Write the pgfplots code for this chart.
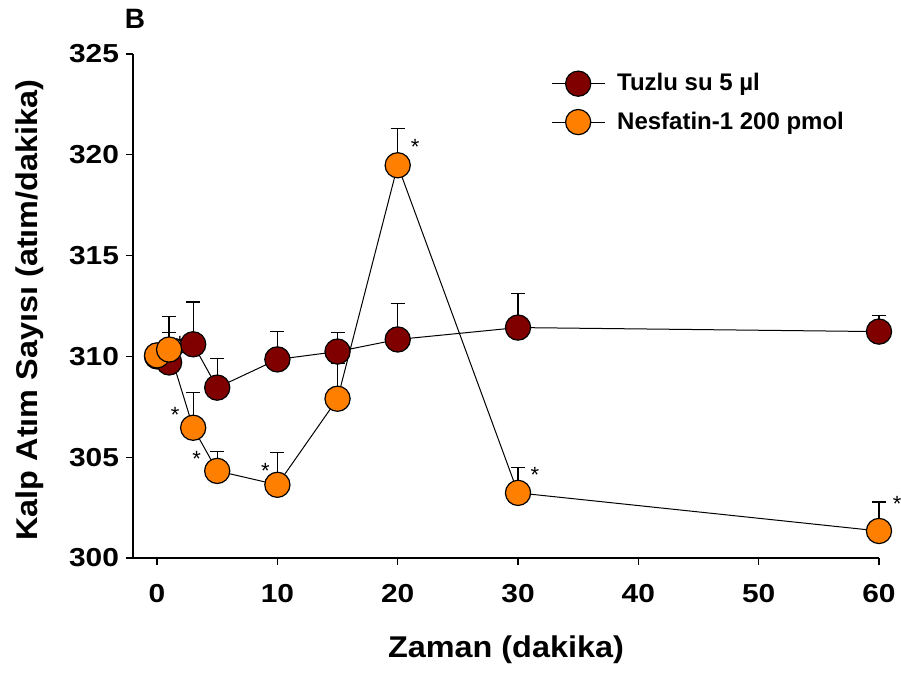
\documentclass[border=0pt]{standalone}
\usepackage{pgfplots}
\pgfplotsset{compat=1.18}
\usepackage{fontspec}
\setmainfont{Liberation Sans}
\newfontfamily\tickfont[FakeStretch=1.15]{Liberation Sans}
\newfontfamily\labfont[FakeStretch=1.08]{Liberation Sans}

\definecolor{tuzlu}{HTML}{800000}
\definecolor{nesf}{HTML}{FF8000}

% t = dakika, m = ortalama, e = SEM (yalniz yukari)
\pgfplotstableread{
t  m       e
0  310.00  0
1  309.70  1.50
3  310.60  2.10
5  308.45  1.45
10 309.85  1.40
15 310.24  0.95
20 310.84  1.78
30 311.43  1.69
60 311.23  0.80
}\tuzlu

\pgfplotstableread{
t  m       e
0  310.05  0
1  310.34  1.64
3  306.46  1.74
5  304.32  0.95
10 303.63  1.59
15 307.90  1.75
20 319.48  1.84
30 303.23  1.24
60 301.34  1.44
}\nesf

\begin{document}
\begin{tikzpicture}
\begin{axis}[
  scale only axis,
  width=373pt, height=252pt,
  xmin=-2, xmax=60, ymin=300, ymax=325,
  axis lines*=left,
  axis line style={-, line width=0.75pt},
  x axis line style={-}, y axis line style={-},
  xtick={0,10,...,60}, ytick={300,305,...,325},
  tick align=outside,
  major tick length=3.5pt,
  tick style={line width=0.6pt, black},
  /pgf/number format/assume math mode=true,
  ticklabel style={font=\tickfont\fontsize{13}{13}\selectfont\bfseries},
  xticklabel style={yshift=-6pt},
  xlabel={Zaman (dakika)},
  ylabel={Kalp Atım Sayısı (atım/dakika)},
  label style={font=\labfont\fontsize{15}{15}\selectfont\bfseries},
  xlabel style={at={(axis description cs:0.5,-0.183)}, anchor=center},
  ylabel style={at={(axis description cs:-0.139,0.492)}, anchor=center},
  legend style={at={(axis description cs:0.552,0.978)}, anchor=north west,
    draw=none, fill=none, font=\fontsize{12}{12}\selectfont\bfseries,
    row sep=5pt, /tikz/every odd column/.append style={column sep=4pt}},
  legend cell align=left,
  legend image code/.code={%
    \draw[mark repeat=2, mark phase=2] plot coordinates {(0pt,0pt) (13.25pt,0pt) (26.5pt,0pt)};},
  clip=false,
]

% yildizlar (t=1 olani kahverengi dairenin arkasinda)
\node[font=\fontsize{11}{11}\selectfont] at (axis cs:1.9,310.6) {*};

\addplot[black, line width=0.5pt, mark=*, mark size=6.3pt,
  mark options={fill=tuzlu, draw=black, line width=0.6pt},
  error bars/.cd, y dir=plus, y explicit, error mark=|,
  error bar style={line width=0.6pt},
  error mark options={mark size=3.5pt, line width=0.6pt}]
  table[x=t, y=m, y error=e] {\tuzlu};
\addlegendentry{Tuzlu su 5 µl}

\addplot[black, line width=0.5pt, mark=*, mark size=6.3pt,
  mark options={fill=nesf, draw=black, line width=0.6pt},
  error bars/.cd, y dir=plus, y explicit, error mark=|,
  error bar style={line width=0.6pt},
  error mark options={mark size=3.5pt, line width=0.6pt}]
  table[x=t, y=m, y error=e] {\nesf};
\addlegendentry{Nesfatin-1 200 pmol}

\node[font=\fontsize{11}{11}\selectfont] at (axis cs:1.5,307.1) {*};
\node[font=\fontsize{11}{11}\selectfont] at (axis cs:3.3,304.9) {*};
\node[font=\fontsize{11}{11}\selectfont] at (axis cs:9.0,304.3) {*};
\node[font=\fontsize{11}{11}\selectfont] at (axis cs:21.45,320.4) {*};
\node[font=\fontsize{11}{11}\selectfont] at (axis cs:31.4,304.1) {*};
\node[font=\fontsize{11}{11}\selectfont] at (axis cs:61.5,302.7) {*};
\end{axis}

\node[font=\fontsize{14}{14}\selectfont\bfseries] at (1pt,269.5pt) {B};

\pgfresetboundingbox
\path (-66.5pt,-57.5pt) rectangle (384pt,279pt);
\end{tikzpicture}
\end{document}
